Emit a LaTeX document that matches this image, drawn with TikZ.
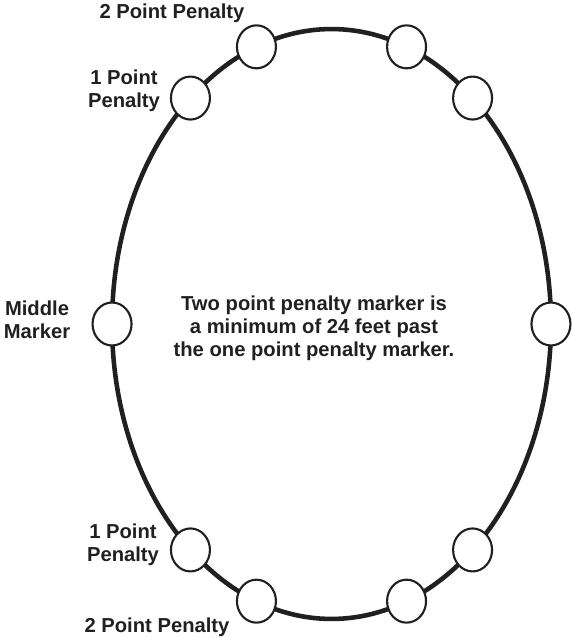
\documentclass[tikz,border=0pt]{standalone}
\usepackage{fontspec}
\setmainfont{Liberation Sans}
\usetikzlibrary{shapes.geometric, calc}

\definecolor{inkgray}{HTML}{231F20}

\tikzset{
  marker/.style={ellipse,draw=inkgray,line width=1.2pt,fill=white,
                 minimum width=0.78cm,minimum height=0.86cm,inner sep=0pt},
  lbl/.style={text=inkgray,font=\fontsize{11.5}{13}\selectfont\bfseries,align=center}
}

\begin{document}
\begin{tikzpicture}[x=0.02cm,y=-0.02cm]
          \useasboundingbox (0,0) rectangle (572,638);
          \coordinate (ctr) at (331.5,324);
          \draw[inkgray,line width=2.6pt] (ctr) ellipse [x radius=4.39cm,y radius=5.9cm];
          \foreach \a in {0,50,70,110,130,180,230,250,290,310}
            \path (ctr) ++(\a:4.39cm and 5.9cm) node[marker] (m\a) {};
          \node[lbl] (twoup) at (172,13) {2 Point Penalty};
          \node[lbl] (oneup) at (124,91) {1 Point\\Penalty};
          \node[lbl] (mid) at (37,320) {Middle\\Marker};
          \node[lbl] (onedown) at (123,545) {1 Point\\Penalty};
          \node[lbl] (twodown) at (157,627) {2 Point Penalty};
          \node[lbl] (note) at (314,328) {Two point penalty marker is\\a minimum of 24 feet past\\the one point penalty marker.};
        \end{tikzpicture}
\end{document}
